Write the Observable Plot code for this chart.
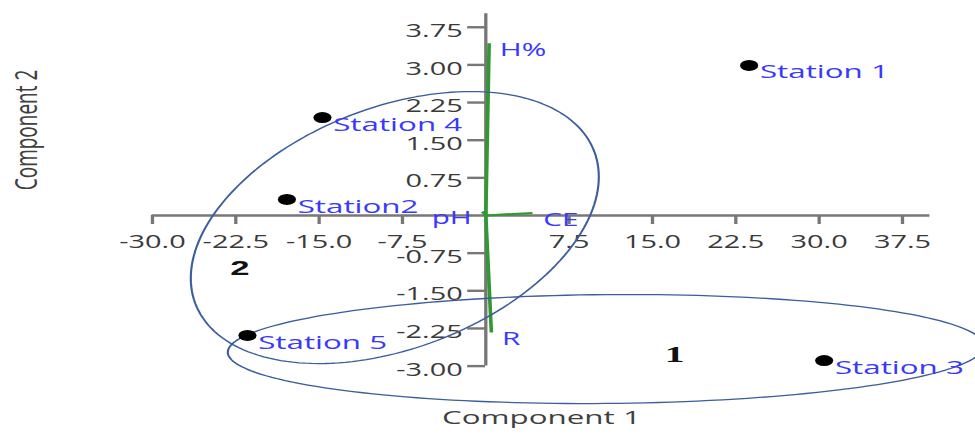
<!DOCTYPE html>
<html>
<head>
<meta charset="utf-8">
<script src="https://cdn.jsdelivr.net/npm/d3@7"></script>
<script src="https://cdn.jsdelivr.net/npm/@observablehq/plot@0.6"></script>
<style>
  html, body { margin: 0; padding: 0; background: #fff; overflow: hidden; }
</style>
</head>
<body>
<div id="chart"></div>
<script>
// PCA biplot: station scores on components 1 and 2, variable loadings and cluster ellipses

// Station scores
const stations = ["Station 1", "Station2", "Station 3", "Station 4", "Station 5"];
const pc1 = [23.7, -17.9, 30.45, -14.7, -21.45];
const pc2 = [2.99, 0.32, -2.89, 1.95, -2.39];

// Variable loadings (biplot vectors)
const variables = ["H%", "pH", "CE", "R"];
const load1 = [0.3, -0.3, 4.2, 0.5];
const load2 = [3.43, 0.08, 0.05, -2.33];

// Axis ticks
const xTicks = [-30, -22.5, -15, -7.5, 7.5, 15, 22.5, 30, 37.5];
const yTicks = [3.75, 3, 2.25, 1.5, 0.75, -0.75, -1.5, -2.25, -3];

// Cluster groups: centre and two conjugate half-axes, in component units
const clusterNames = ["1", "2"];
const clusterCentre = [[10.8, -2.66], [-8.19, -0.24]];
const clusterAxisU = [[34.02, 0.063], [18.36, 1.01]];
const clusterAxisV = [[0, 1.084], [0, 2.514]];
const clusterTagAt = [[17.0, -2.77], [-22.14, -1.06]];

// The drawing is laid out in a narrower viewBox and widened to the page
const STRETCH = 1.65;
const W = 975 / STRETCH;
const H = 434;

const scores = stations.map((name, i) => ({name, x: pc1[i], y: pc2[i]}));
const loadings = variables.map((name, i) => ({name, x: load1[i], y: load2[i]}));

const ellipsePts = [];
clusterNames.forEach((cluster, c) => {
  const [cx, cy] = clusterCentre[c];
  const [ux, uy] = clusterAxisU[c];
  const [vx, vy] = clusterAxisV[c];
  const n = 180;
  for (let k = 0; k <= n; k++) {
    const t = (2 * Math.PI * k) / n;
    ellipsePts.push({
      cluster,
      x: cx + ux * Math.cos(t) + vx * Math.sin(t),
      y: cy + uy * Math.cos(t) + vy * Math.sin(t)
    });
  }
});
const tags = clusterNames.map((name, c) => ({name, x: clusterTagAt[c][0], y: clusterTagAt[c][1]}));

const axisGray = "#777777";
const tickText = "#3a3a3a";
const labelBlue = "#3838ff";
const loadGreen = "#2f9a2f";
const ellipseBlue = "#3c5e9c";

const chart = Plot.plot({
  width: W,
  height: H,
  marginLeft: 91.9,
  marginRight: W - 563.3,
  marginTop: 11.7,
  marginBottom: 18.2,
  x: {domain: [-30, 40], axis: null},
  y: {domain: [-4, 4.05], axis: null},
  style: {
    fontFamily: "'Open Sans', sans-serif",
    fontSize: "18px",
    background: "white",
    overflow: "visible"
  },
  marks: [
    // axes crossing at the origin
    Plot.ruleY([0], {x1: -30, x2: 40, stroke: axisGray, strokeWidth: 2.4}),
    Plot.ruleX(xTicks, {x: d => d, y1: 0, y2: -0.18, stroke: axisGray, strokeWidth: 2}),
    Plot.ruleX([0], {y1: -3, y2: 4.02, stroke: axisGray, strokeWidth: 2}),
    Plot.ruleY(yTicks, {y: d => d, x1: -1.6, x2: 0, stroke: axisGray, strokeWidth: 2.4}),
    Plot.text(xTicks, {x: d => d, y: 0, text: d => d.toFixed(1), dy: 27, fill: tickText, fontSize: 17.5}),
    Plot.text(yTicks, {x: 0, y: d => d, text: d => d.toFixed(2), textAnchor: "end", dx: -14, dy: 4, fill: tickText, fontSize: 17.5}),

    // loading vectors
    Plot.link(loadings, {x1: 0, y1: 0, x2: "x", y2: "y", stroke: loadGreen, strokeWidth: 2.2}),

    // cluster ellipses
    Plot.line(ellipsePts, {x: "x", y: "y", z: "cluster", stroke: ellipseBlue, strokeWidth: 1.3}),

    // station scores
    Plot.dot(scores, {x: "x", y: "y", r: 5.5, fill: "black"}),
    Plot.text(scores, {x: "x", y: "y", text: "name", textAnchor: "start", dx: 6.5, dy: 7, fill: labelBlue, fontSize: 19}),

    // loading labels
    Plot.text(loadings.filter(d => d.x >= 0), {x: "x", y: "y", text: "name", textAnchor: "start", dx: 6.5, dy: 7, fill: labelBlue, fontSize: 18}),
    Plot.text(loadings.filter(d => d.x < 0), {x: "x", y: "y", text: "name", textAnchor: "end", dx: -6.5, dy: 7, fill: labelBlue, fontSize: 18}),

    // cluster tags
    Plot.text(tags.filter(d => d.name === "2"), {x: "x", y: "y", text: "name", fontFamily: "'Liberation Sans', Arial, sans-serif", fontWeight: "bold", fontSize: 21, fill: "#111"}),
    Plot.text(tags.filter(d => d.name === "1"), {x: "x", y: "y", text: "name", fontFamily: "'Liberation Serif', 'Times New Roman', serif", fontWeight: "bold", fontSize: 24, fill: "#111"}),

    // axis titles
    Plot.text(["Component 1"], {frameAnchor: "bottom", dy: 8, fill: "#404040", fontSize: 19}),
    Plot.text(["Component 2"], {frameAnchor: "left", rotate: -90, dx: -76, dy: -24, fill: "#404040", fontSize: 19})
  ]
});

chart.setAttribute("width", 975);
chart.setAttribute("height", H);
chart.setAttribute("preserveAspectRatio", "none");
chart.style.width = "975px";
chart.style.height = H + "px";
chart.style.maxWidth = "none";
document.getElementById("chart").appendChild(chart);
</script>
</body>
</html>
